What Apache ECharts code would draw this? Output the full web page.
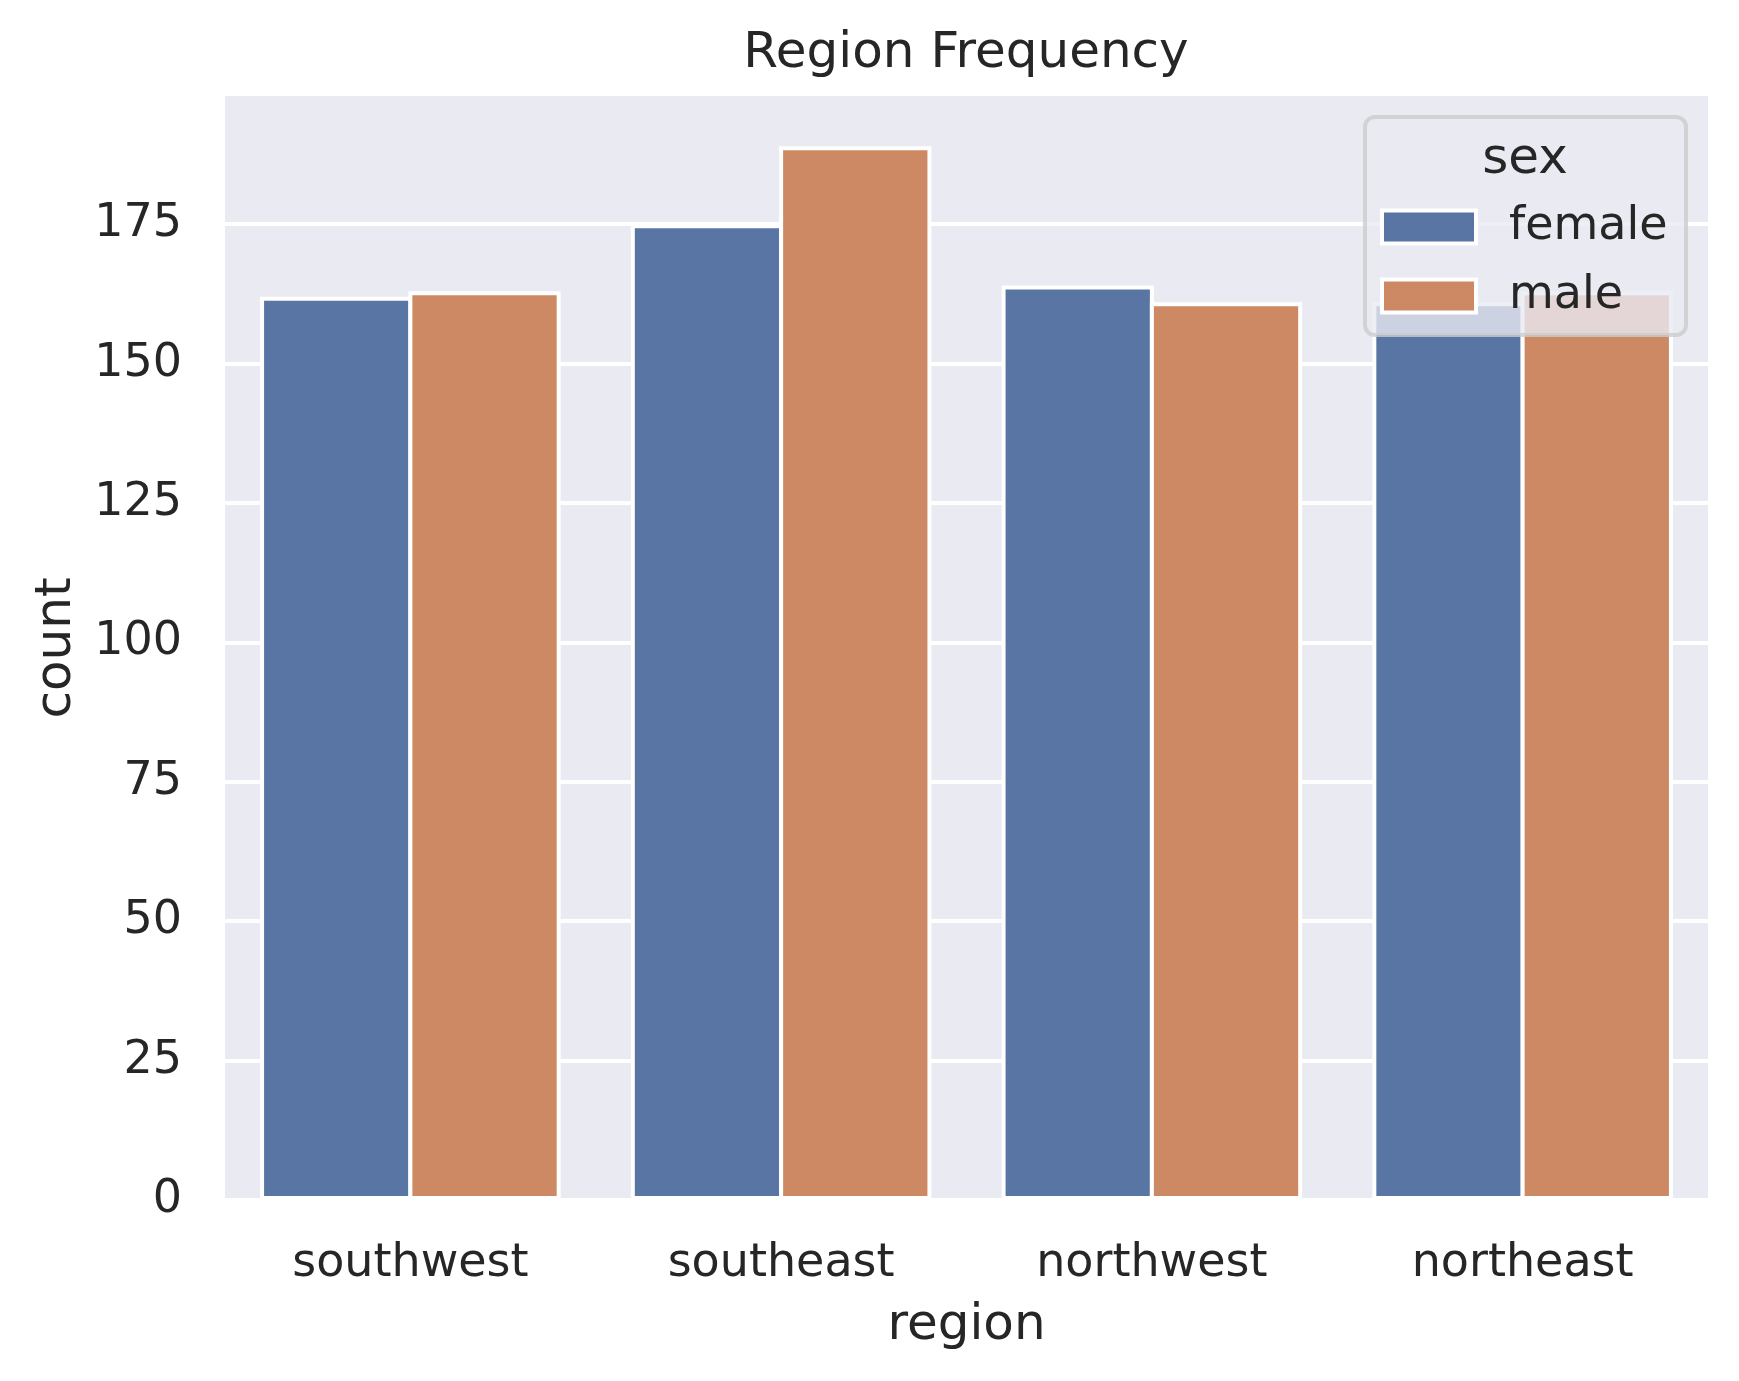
<!DOCTYPE html>
<html>
<head>
<meta charset="utf-8">
<script src="https://cdn.jsdelivr.net/npm/echarts@6/dist/echarts.min.js"></script>
<style>html,body{margin:0;padding:0;background:#fff;}#c{width:1739px;height:1381px;}</style>
</head>
<body>
<div id="c"></div>
<script>
const regions = ['southwest', 'southeast', 'northwest', 'northeast'];
const female = [162, 175, 164, 161];
const male = [163, 189, 161, 163];
const seriesNames = ['female', 'male'];
const yMax = 198;
const yInterval = 25;

const FONT = 'DejaVu Sans';
const TXT = '#262626';
const chart = echarts.init(document.getElementById('c'), null, {renderer: 'canvas'});
chart.setOption({
  animation: false,
  backgroundColor: '#ffffff',
  textStyle: {fontFamily: FONT, color: TXT},
  title: {
    text: 'Region Frequency', left: 966, textAlign: 'center', top: 29, padding: 0,
    textStyle: {fontFamily: FONT, fontSize: 50, fontWeight: 'normal', color: TXT}
  },
  grid: {left: 225, right: 31, top: 96, bottom: 181, show: true, backgroundColor: '#EAEAF2', borderWidth: 0, containLabel: false},
  xAxis: {
    type: 'category', data: regions,
    name: 'region', nameLocation: 'middle', nameGap: 101,
    nameTextStyle: {fontFamily: FONT, fontSize: 50, color: TXT},
    axisLine: {show: false}, axisTick: {show: false},
    axisLabel: {fontFamily: FONT, fontSize: 46, color: TXT, margin: 41},
    splitLine: {show: false}
  },
  yAxis: {
    type: 'value', min: 0, max: yMax, interval: yInterval,
    name: 'count', nameLocation: 'middle', nameGap: 143, nameRotate: 90,
    nameTextStyle: {fontFamily: FONT, fontSize: 50, color: TXT},
    axisLine: {show: false}, axisTick: {show: false},
    axisLabel: {fontFamily: FONT, fontSize: 46, color: TXT, margin: 43, showMaxLabel: false,
      formatter: v => (v % yInterval === 0 ? String(v) : '')},
    splitLine: {show: true, showMaxLine: false, lineStyle: {color: '#ffffff', width: 4}}
  },
  legend: {
    data: seriesNames, orient: 'vertical', left: 1380, top: 204, padding: 0,
    icon: 'rect', itemWidth: 94, itemHeight: 33, itemGap: 23, z: 6,
    itemStyle: {borderColor: '#ffffff', borderWidth: 4},
    textStyle: {fontFamily: FONT, fontSize: 46, color: TXT, padding: [0, 0, 0, 28], lineHeight: 31}
  },
  graphic: [
    {type: 'rect', z: 5, shape: {x: 1365, y: 117, width: 321, height: 218, r: 10},
     style: {fill: 'rgba(234,234,242,0.8)', stroke: 'rgba(204,204,204,0.8)', lineWidth: 4}},
    {type: 'text', z: 7, x: 1525, y: 160,
     style: {text: 'sex', fontFamily: FONT, fontSize: 50, fill: TXT, align: 'center', verticalAlign: 'middle'}}
  ],
  series: [
    {name: 'female', type: 'bar', data: female, barWidth: 152.3, barGap: '-2.63%',
     itemStyle: {color: '#5975A4', borderColor: '#ffffff', borderWidth: 4}},
    {name: 'male', type: 'bar', data: male, barWidth: 152.3, barGap: '-2.63%',
     itemStyle: {color: '#CC8963', borderColor: '#ffffff', borderWidth: 4}}
  ]
});
</script>
</body>
</html>
